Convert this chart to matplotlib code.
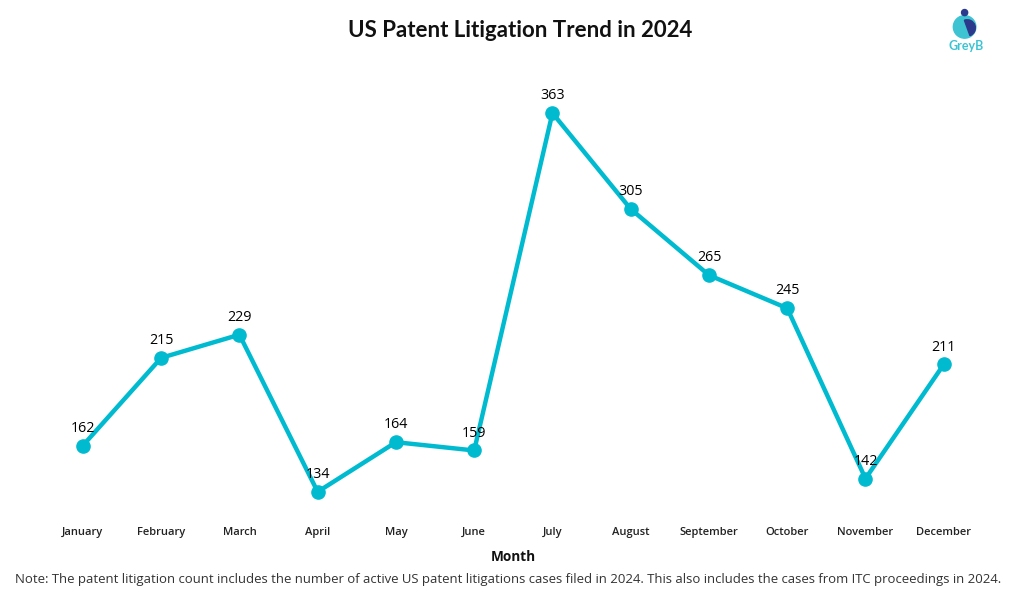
"""US patent litigation trend in 2024 - line chart."""
import matplotlib.pyplot as plt
from matplotlib.patches import Circle, Wedge
import numpy as np

months = ["January", "February", "March", "April", "May", "June",
          "July", "August", "September", "October", "November", "December"]
cases = [162, 215, 229, 134, 164, 159, 363, 305, 265, 245, 142, 211]

teal = "#00BBD0"

fig = plt.figure(figsize=(10.24, 6.01), dpi=100)
ax = fig.add_axes([0.039, 0.1514, 0.9277, 0.7155])

x = np.arange(len(months))
ax.plot(x, cases, color=teal, linewidth=3.2, marker="o", markersize=9.5,
        solid_joinstyle="miter", zorder=3)

for xi, v in zip(x, cases):
    ax.annotate(f"{v}", (xi, v), textcoords="offset points", xytext=(0, 12.5),
                ha="center", va="center", fontsize=10.3, family="Open Sans",
                color="#000000", zorder=4)

ax.set_xlim(-0.549, 11.59)
ax.set_ylim(123, 383)
ax.set_xticks(x)
ax.set_xticklabels(months, fontsize=8, family="Open Sans", fontweight="semibold",
                   color="#222222")
ax.tick_params(axis="x", length=0, pad=12)
ax.set_yticks([])
for s in ax.spines.values():
    s.set_visible(False)

fig.text(0.501, 0.073, "Month", ha="center", va="center", fontsize=9.8,
         family="Open Sans", fontweight="bold", color="#111111")
fig.text(0.508, 0.949, "US Patent Litigation Trend in 2024", ha="center",
         va="center", fontsize=16, family="Lato", fontweight="bold",
         color="#111111")
fig.text(0.4966, 0.0366,
         "Note: The patent litigation count includes the number of active US patent "
         "litigations cases filed in 2024. This also includes the cases from ITC "
         "proceedings in 2024.",
         ha="center", va="center", fontsize=9.48, family="Open Sans", color="#333333")

# GreyB logo
lax = fig.add_axes([0.917, 0.9, 0.05, 0.09])
lax.set_xlim(0, 1)
lax.set_ylim(0, 1)
lax.set_aspect("equal")
lax.axis("off")
lax.add_patch(Circle((0.5, 0.62), 0.22, color="#3EC3D3"))
lax.add_patch(Wedge((0.55, 0.6), 0.16, -70, 110, color="#2B3A8C"))
lax.add_patch(Circle((0.5, 0.9), 0.06, color="#2B3A8C"))
fig.text(0.943, 0.923, "GreyB", ha="center", va="center", fontsize=9,
         family="Lato", fontweight="bold", color="#3EC3D3")

fig.savefig("out.png", dpi=100)
